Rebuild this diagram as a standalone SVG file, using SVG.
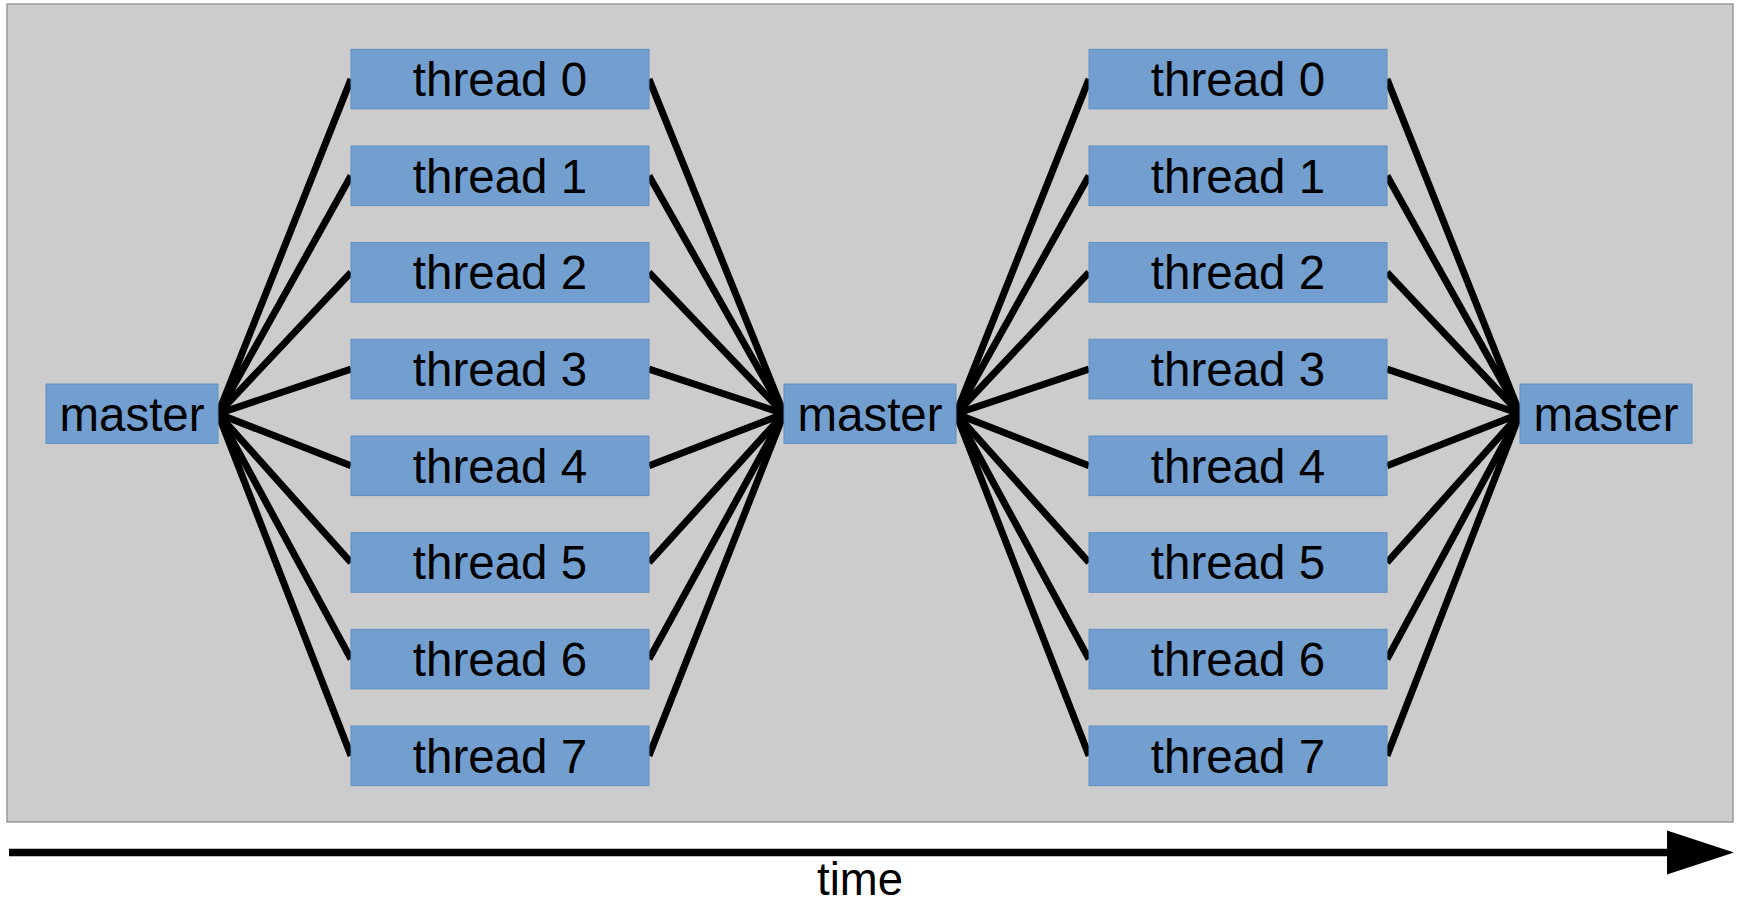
<svg xmlns="http://www.w3.org/2000/svg" width="1743" height="902" viewBox="0 0 1743 902">
  <style>
    .frame { fill: #cccccc; stroke: #9a9a9a; stroke-width: 1.5; }
    .box { fill: #729fcf; stroke: #5f8fc4; stroke-width: 1; }
    .lbl { font-family: "Liberation Sans", Arial, sans-serif; font-size: 47.5px; fill: #000000; text-anchor: middle; }
    .fan line { stroke: #000000; stroke-width: 7; stroke-linecap: butt; }
    .axis { stroke: #000000; stroke-width: 7.5; }
  </style>

  <!-- panel -->
  <rect class="frame" x="7" y="4" width="1726" height="818"/>

  <!-- fork/join connectors -->
  <g id="connectors" class="fan">
    <!-- master 1 -> threads (first fork) -->
    <line x1="218" y1="413.75" x2="351" y2="79.1"/>
    <line x1="218" y1="413.75" x2="351" y2="175.8"/>
    <line x1="218" y1="413.75" x2="351" y2="272.4"/>
    <line x1="218" y1="413.75" x2="351" y2="369.1"/>
    <line x1="218" y1="413.75" x2="351" y2="465.8"/>
    <line x1="218" y1="413.75" x2="351" y2="562.5"/>
    <line x1="218" y1="413.75" x2="351" y2="659.1"/>
    <line x1="218" y1="413.75" x2="351" y2="755.8"/>
    <!-- threads -> master 2 (first join) -->
    <line x1="649" y1="79.1" x2="784" y2="413.75"/>
    <line x1="649" y1="175.8" x2="784" y2="413.75"/>
    <line x1="649" y1="272.4" x2="784" y2="413.75"/>
    <line x1="649" y1="369.1" x2="784" y2="413.75"/>
    <line x1="649" y1="465.8" x2="784" y2="413.75"/>
    <line x1="649" y1="562.5" x2="784" y2="413.75"/>
    <line x1="649" y1="659.1" x2="784" y2="413.75"/>
    <line x1="649" y1="755.8" x2="784" y2="413.75"/>
    <!-- master 2 -> threads (second fork) -->
    <line x1="956" y1="413.75" x2="1089" y2="79.1"/>
    <line x1="956" y1="413.75" x2="1089" y2="175.8"/>
    <line x1="956" y1="413.75" x2="1089" y2="272.4"/>
    <line x1="956" y1="413.75" x2="1089" y2="369.1"/>
    <line x1="956" y1="413.75" x2="1089" y2="465.8"/>
    <line x1="956" y1="413.75" x2="1089" y2="562.5"/>
    <line x1="956" y1="413.75" x2="1089" y2="659.1"/>
    <line x1="956" y1="413.75" x2="1089" y2="755.8"/>
    <!-- threads -> master 3 (second join) -->
    <line x1="1387" y1="79.1" x2="1520" y2="413.75"/>
    <line x1="1387" y1="175.8" x2="1520" y2="413.75"/>
    <line x1="1387" y1="272.4" x2="1520" y2="413.75"/>
    <line x1="1387" y1="369.1" x2="1520" y2="413.75"/>
    <line x1="1387" y1="465.8" x2="1520" y2="413.75"/>
    <line x1="1387" y1="562.5" x2="1520" y2="413.75"/>
    <line x1="1387" y1="659.1" x2="1520" y2="413.75"/>
    <line x1="1387" y1="755.8" x2="1520" y2="413.75"/>
  </g>

  <!-- master nodes -->
  <g id="master-1"><rect class="box" x="46" y="384" width="172" height="59.5"/><text class="lbl" x="132" y="430.7">master</text></g>
  <g id="master-2"><rect class="box" x="784" y="384" width="172" height="59.5"/><text class="lbl" x="870" y="430.7">master</text></g>
  <g id="master-3"><rect class="box" x="1520" y="384" width="172" height="59.5"/><text class="lbl" x="1606" y="430.7">master</text></g>

  <!-- first parallel region -->
  <g id="a-thread-0"><rect class="box" x="351" y="49.3" width="298" height="59.6"/><text class="lbl" x="500" y="96">thread 0</text></g>
  <g id="a-thread-1"><rect class="box" x="351" y="146" width="298" height="59.6"/><text class="lbl" x="500" y="192.7">thread 1</text></g>
  <g id="a-thread-2"><rect class="box" x="351" y="242.6" width="298" height="59.6"/><text class="lbl" x="500" y="289.3">thread 2</text></g>
  <g id="a-thread-3"><rect class="box" x="351" y="339.3" width="298" height="59.6"/><text class="lbl" x="500" y="386">thread 3</text></g>
  <g id="a-thread-4"><rect class="box" x="351" y="436" width="298" height="59.6"/><text class="lbl" x="500" y="482.7">thread 4</text></g>
  <g id="a-thread-5"><rect class="box" x="351" y="532.7" width="298" height="59.6"/><text class="lbl" x="500" y="579.4">thread 5</text></g>
  <g id="a-thread-6"><rect class="box" x="351" y="629.3" width="298" height="59.6"/><text class="lbl" x="500" y="676">thread 6</text></g>
  <g id="a-thread-7"><rect class="box" x="351" y="726" width="298" height="59.6"/><text class="lbl" x="500" y="772.7">thread 7</text></g>

  <!-- second parallel region -->
  <g id="b-thread-0"><rect class="box" x="1089" y="49.3" width="298" height="59.6"/><text class="lbl" x="1238" y="96">thread 0</text></g>
  <g id="b-thread-1"><rect class="box" x="1089" y="146" width="298" height="59.6"/><text class="lbl" x="1238" y="192.7">thread 1</text></g>
  <g id="b-thread-2"><rect class="box" x="1089" y="242.6" width="298" height="59.6"/><text class="lbl" x="1238" y="289.3">thread 2</text></g>
  <g id="b-thread-3"><rect class="box" x="1089" y="339.3" width="298" height="59.6"/><text class="lbl" x="1238" y="386">thread 3</text></g>
  <g id="b-thread-4"><rect class="box" x="1089" y="436" width="298" height="59.6"/><text class="lbl" x="1238" y="482.7">thread 4</text></g>
  <g id="b-thread-5"><rect class="box" x="1089" y="532.7" width="298" height="59.6"/><text class="lbl" x="1238" y="579.4">thread 5</text></g>
  <g id="b-thread-6"><rect class="box" x="1089" y="629.3" width="298" height="59.6"/><text class="lbl" x="1238" y="676">thread 6</text></g>
  <g id="b-thread-7"><rect class="box" x="1089" y="726" width="298" height="59.6"/><text class="lbl" x="1238" y="772.7">thread 7</text></g>

  <!-- time axis -->
  <g id="time-axis">
    <line class="axis" x1="9" y1="852.5" x2="1668" y2="852.5"/>
    <polygon points="1667,830.5 1734,852.5 1667,874.5" fill="#000000"/>
    <text class="lbl" x="860" y="895" style="font-size:45.5px">time</text>
  </g>
</svg>
